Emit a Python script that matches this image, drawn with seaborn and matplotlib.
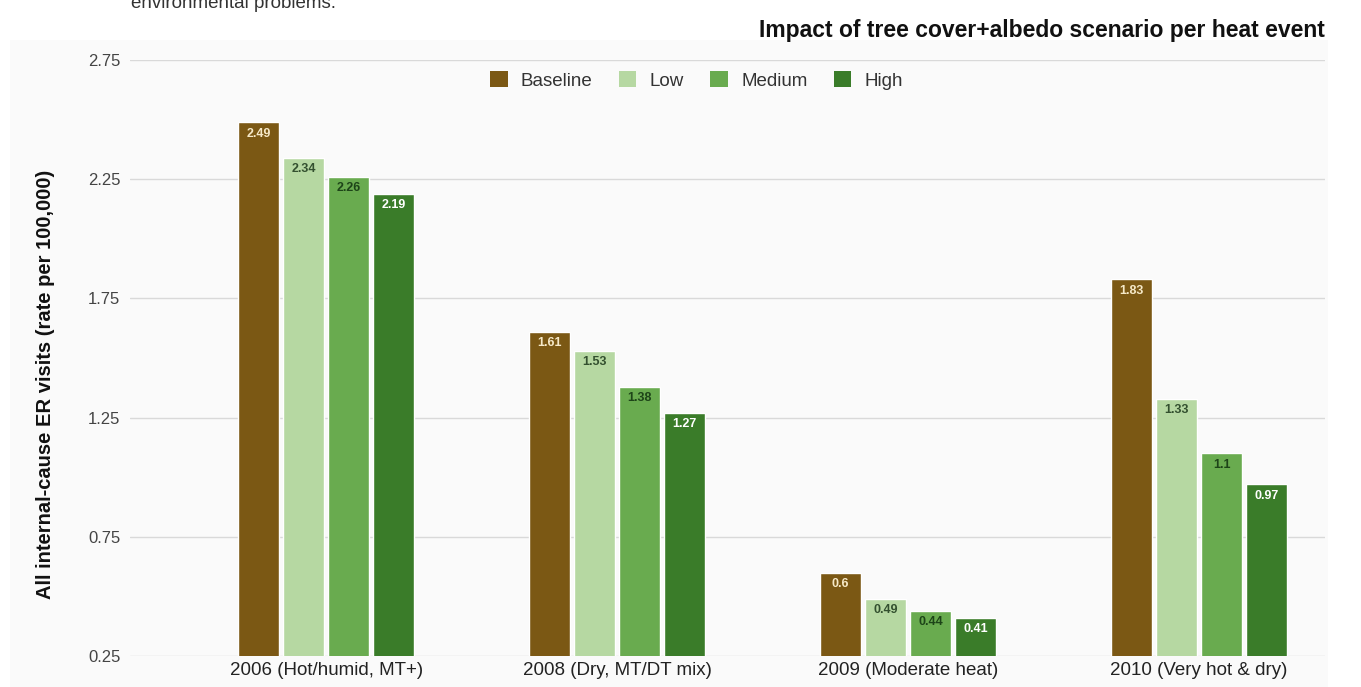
import numpy as np
import pandas as pd
import seaborn as sns
import matplotlib.pyplot as plt
from matplotlib.patches import Rectangle, Patch

events = ["2006 (Hot/humid, MT+)", "2008 (Dry, MT/DT mix)",
          "2009 (Moderate heat)", "2010 (Very hot & dry)"]
scenarios = ["Baseline", "Low", "Medium", "High"]
baseline = [2.49, 1.61, 0.6, 1.83]
low = [2.34, 1.53, 0.49, 1.33]
medium = [2.26, 1.38, 0.44, 1.1]
high = [2.19, 1.27, 0.41, 0.97]
y_ticks = [0.25, 0.75, 1.25, 1.75, 2.25, 2.75]

colors = ["#7b5814", "#b6d8a2", "#69ab4f", "#3a7c29"]
label_colors = ["#f6e9c8", "#33502f", "#1d4418", "#ffffff"]

df = pd.DataFrame({
    "event": events * 4,
    "scenario": [s for s in scenarios for _ in events],
    "value": baseline + low + medium + high,
})


def set_style():
    sns.set_style("white")
    plt.rcParams.update({
        'font.family': ['Liberation Sans', 'DejaVu Sans'],
        'font.size': 10,
    })


def main():
    set_style()
    W, H = 1361, 687
    fig = plt.figure(figsize=(W / 100, H / 100), dpi=100)
    fig.patch.set_facecolor("white")

    # light panel behind the chart
    fig.patches.append(Rectangle((10 / W, 0), 1318 / W, (H - 40) / H,
                                 transform=fig.transFigure, facecolor="#fafafa",
                                 edgecolor="none", zorder=-10))
    # cut-off body text above the chart (clipped in the source screenshot too)
    fig.text(131 / W, 1 - 8 / H, "environmental problems.", fontsize=13.5,
             color="#333333", va="baseline", ha="left")

    ax = fig.add_axes([130 / W, 31 / H, 1195 / W, 596 / H])
    ax.set_facecolor("none")

    sns.barplot(data=df, x="event", y="value", hue="scenario", order=events,
                hue_order=scenarios, palette=colors, width=0.62, gap=0.09,
                legend=False, ax=ax, zorder=3, saturation=1)

    ax.set_ylim(0.25, 2.75)
    ax.set_xlim(-0.674, 3.433)
    ax.set_yticks(y_ticks)
    ax.set_yticklabels([f"{t:.2f}" for t in y_ticks], color="#444444", fontsize=12)
    ax.yaxis.grid(True, color="#d9d9d9", linewidth=1, zorder=0)
    ax.xaxis.grid(False)
    for s in ax.spines.values():
        s.set_visible(False)
    ax.tick_params(axis="y", length=0, pad=7)
    ax.tick_params(axis="x", length=0, pad=4, labelsize=13.5, labelcolor="#222222")
    ax.set_xlabel("")
    ax.set_ylabel("All internal-cause ER visits (rate per 100,000)", fontsize=14.5,
                  fontweight="bold", color="#111111")
    ax.yaxis.set_label_coords((55 - 130) / 1195, 0.456)

    for cont, lc in zip(ax.containers, label_colors):
        for p in cont:
            v = p.get_height()
            ax.annotate(f"{v:g}", (p.get_x() + p.get_width() / 2, v),
                        xytext=(0, -4), textcoords="offset points",
                        ha="center", va="top", fontsize=9, fontweight="bold",
                        color=lc, zorder=5)

    handles = [Patch(facecolor=c, edgecolor="none") for c in colors]
    ax.legend(handles, scenarios, loc="center", bbox_to_anchor=(0.474, 0.966),
              ncol=4, frameon=False, handlelength=0.95, handleheight=0.95,
              columnspacing=1.4, handletextpad=0.7, fontsize=13.5,
              labelcolor="#333333")

    fig.text(1325 / W, 1 - 30 / H,
             "Impact of tree cover+albedo scenario per heat event",
             ha="right", va="center", fontsize=16.5, fontweight="bold",
             color="#111111")

    fig.savefig("out.png", dpi=100)


if __name__ == "__main__":
    main()
